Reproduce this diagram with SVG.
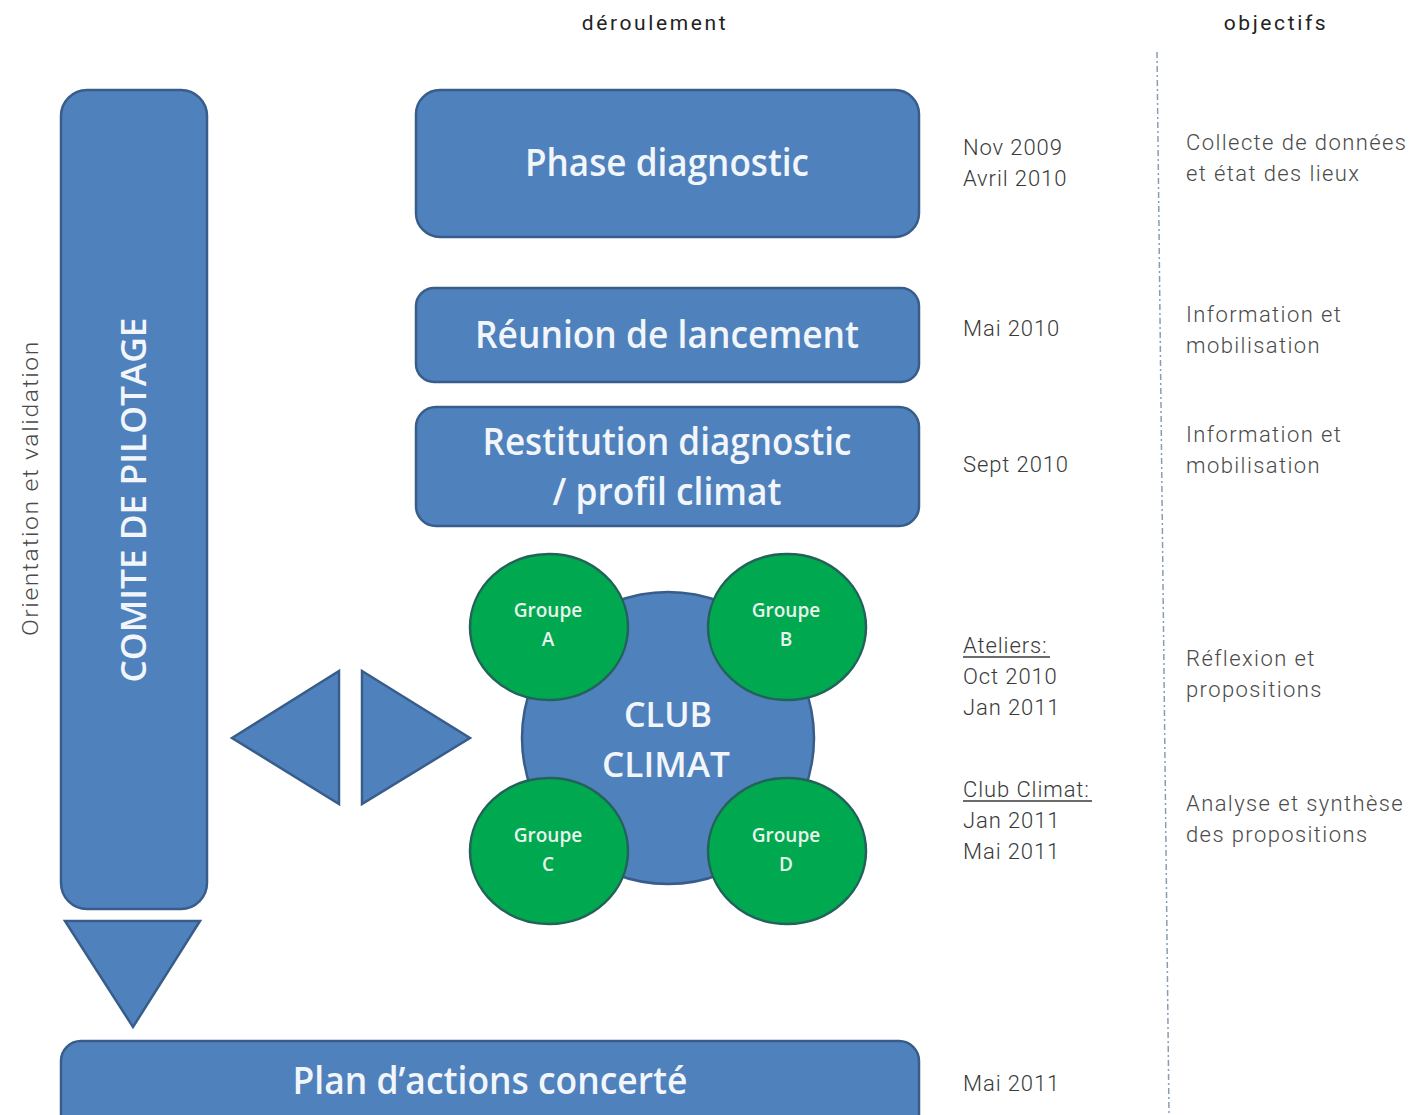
<svg xmlns="http://www.w3.org/2000/svg" width="1421" height="1115" viewBox="0 0 1421 1115">
<style>
.box{fill:#4F81BD;stroke:#385D8A;stroke-width:2.5}
.grp{fill:#00A84F;stroke:#23625A;stroke-width:2.5}
.t{font-family:"Open Sans","Noto Sans",sans-serif;fill:#F2F6FB;text-anchor:middle;font-weight:600}
.g{font-family:"Open Sans","Noto Sans",sans-serif;fill:#E8F5EC;text-anchor:middle;font-size:19px;font-weight:600}
.d{font-family:Roboto,"DejaVu Sans",sans-serif;font-weight:300;fill:#3A3A3A;font-size:22px;letter-spacing:0.9px}
.o{font-family:Roboto,"DejaVu Sans",sans-serif;font-weight:300;fill:#4A4A4A;font-size:22px;letter-spacing:1.4px}
.h{font-family:Roboto,"DejaVu Sans",sans-serif;font-weight:400;fill:#222;font-size:21px;letter-spacing:2.6px;text-anchor:middle}
</style>
<rect width="1421" height="1115" fill="#FFFFFF"/>
<text class="h" x="655" y="30">déroulement</text>
<text class="h" x="1276" y="30">objectifs</text>
<line x1="1157" y1="52" x2="1169" y2="1115" stroke="#8A9CB4" stroke-width="1.5" stroke-dasharray="6 3 2 3"/>
<text class="o" transform="translate(38,488) rotate(-90)" text-anchor="middle" font-size="24" textLength="296" lengthAdjust="spacingAndGlyphs">Orientation et validation</text>
<g id="comite">
<rect class="box" x="61" y="90" width="146" height="819" rx="26"/>
<text class="t" transform="translate(146,500) rotate(-90)" font-size="34" textLength="365" lengthAdjust="spacingAndGlyphs">COMITE DE PILOTAGE</text>
</g>
<g id="phase">
<rect class="box" x="416" y="90" width="503" height="147" rx="24"/>
<text class="t" x="667" y="176" font-size="37" textLength="284" lengthAdjust="spacingAndGlyphs">Phase diagnostic</text>
</g>
<g id="reunion">
<rect class="box" x="416" y="288" width="503" height="94" rx="18"/>
<text class="t" x="667" y="348" font-size="37" textLength="384" lengthAdjust="spacingAndGlyphs">Réunion de lancement</text>
</g>
<g id="restitution">
<rect class="box" x="416" y="407" width="503" height="119" rx="20"/>
<text class="t" x="667" y="455" font-size="37" textLength="369" lengthAdjust="spacingAndGlyphs">Restitution diagnostic</text>
<text class="t" x="667" y="505" font-size="37" textLength="229" lengthAdjust="spacingAndGlyphs">/ profil climat</text>
</g>
<g id="club">
<circle class="box" cx="668" cy="738" r="146"/>
<text class="t" x="668" y="727" font-size="35" textLength="88" lengthAdjust="spacingAndGlyphs">CLUB</text>
<text class="t" x="666" y="777" font-size="35" textLength="128" lengthAdjust="spacingAndGlyphs">CLIMAT</text>
</g>
<g id="groupeA">
<ellipse class="grp" cx="549" cy="627" rx="79" ry="73"/>
<text class="g" x="548" y="617">Groupe</text>
<text class="g" x="548" y="646">A</text>
</g>
<g id="groupeB">
<ellipse class="grp" cx="787" cy="627" rx="79" ry="73"/>
<text class="g" x="786" y="617">Groupe</text>
<text class="g" x="786" y="646">B</text>
</g>
<g id="groupeC">
<ellipse class="grp" cx="549" cy="851" rx="79" ry="73"/>
<text class="g" x="548" y="842">Groupe</text>
<text class="g" x="548" y="871">C</text>
</g>
<g id="groupeD">
<ellipse class="grp" cx="787" cy="851" rx="79" ry="73"/>
<text class="g" x="786" y="842">Groupe</text>
<text class="g" x="786" y="871">D</text>
</g>
<g id="plan">
<rect class="box" x="61" y="1041" width="858" height="100" rx="20"/>
<text class="t" x="490" y="1094" font-size="37" textLength="395" lengthAdjust="spacingAndGlyphs">Plan d’actions concerté</text>
</g>
<g id="connectors">
<polygon class="box" points="232,738 339,671 339,804"/>
<polygon class="box" points="362,671 470,738 362,804"/>
<polygon class="box" points="65,921 200,921 133,1027"/>
</g>
<g id="dates">
<text class="d" x="963" y="155">Nov 2009</text>
<text class="d" x="963" y="186">Avril 2010</text>
<text class="d" x="963" y="336">Mai 2010</text>
<text class="d" x="963" y="472">Sept 2010</text>
<text class="d" x="963" y="653">Ateliers:</text>
<line x1="963" y1="657" x2="1050" y2="657" stroke="#3A3A3A" stroke-width="1.3"/>
<text class="d" x="963" y="684">Oct 2010</text>
<text class="d" x="963" y="715">Jan 2011</text>
<text class="d" x="963" y="797">Club Climat:</text>
<line x1="963" y1="801" x2="1092" y2="801" stroke="#3A3A3A" stroke-width="1.3"/>
<text class="d" x="963" y="828">Jan 2011</text>
<text class="d" x="963" y="859">Mai 2011</text>
<text class="d" x="963" y="1091">Mai 2011</text>
</g>
<g id="objectifs">
<text class="o" x="1186" y="150">Collecte de données</text>
<text class="o" x="1186" y="181">et état des lieux</text>
<text class="o" x="1186" y="322">Information et</text>
<text class="o" x="1186" y="353">mobilisation</text>
<text class="o" x="1186" y="442">Information et</text>
<text class="o" x="1186" y="473">mobilisation</text>
<text class="o" x="1186" y="666">Réflexion et</text>
<text class="o" x="1186" y="697">propositions</text>
<text class="o" x="1186" y="811">Analyse et synthèse</text>
<text class="o" x="1186" y="842">des propositions</text>
</g>
</svg>
